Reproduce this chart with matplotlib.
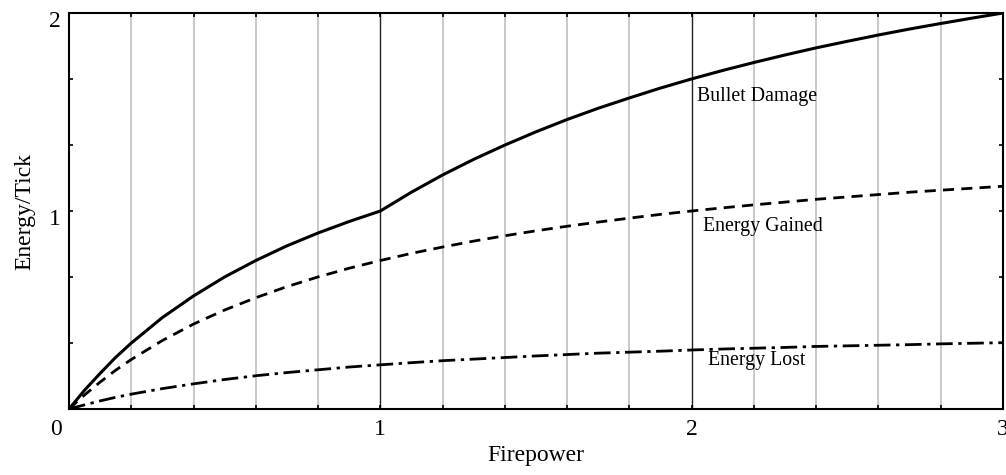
import matplotlib
matplotlib.use("Agg")
import matplotlib.pyplot as plt
import matplotlib.transforms as mtransforms
import numpy as np

# Firepower samples
firepower = [0.0, 0.05, 0.1, 0.15, 0.2, 0.3, 0.4, 0.5, 0.6, 0.7, 0.8, 0.9, 1.0,
             1.1, 1.2, 1.3, 1.4, 1.5, 1.6, 1.7, 1.8, 1.9, 2.0,
             2.1, 2.2, 2.3, 2.4, 2.5, 2.6, 2.7, 2.8, 2.9, 3.0]

bullet_damage = [0.0, 0.095, 0.18, 0.261, 0.333, 0.462, 0.571, 0.667, 0.75, 0.824, 0.889, 0.947, 1.0,
                 1.095, 1.182, 1.261, 1.333, 1.40, 1.462, 1.519, 1.571, 1.621, 1.667,
                 1.71, 1.75, 1.788, 1.824, 1.857, 1.889, 1.919, 1.947, 1.974, 2.0]

energy_gained = [0.0, 0.071, 0.136, 0.196, 0.25, 0.346, 0.429, 0.50, 0.562, 0.618, 0.667, 0.711, 0.75,
                 0.786, 0.818, 0.848, 0.875, 0.90, 0.923, 0.944, 0.964, 0.983, 1.0,
                 1.016, 1.031, 1.045, 1.059, 1.071, 1.083, 1.095, 1.105, 1.115, 1.125]

energy_lost = [0.0, 0.021, 0.041, 0.059, 0.075, 0.103, 0.127, 0.149, 0.168, 0.184, 0.198, 0.212, 0.223,
               0.234, 0.244, 0.252, 0.26, 0.268, 0.275, 0.282, 0.287, 0.292, 0.298,
               0.303, 0.307, 0.311, 0.316, 0.319, 0.322, 0.325, 0.329, 0.332, 0.335]

x_ticks = [0, 1, 2, 3]
x_tick_labels = ["0", "1", "2", "3"]
y_ticks = [1, 2]
y_tick_labels = ["1", "2"]

FONT = "Liberation Serif"

fig = plt.figure(figsize=(10.06, 4.75), dpi=100)
ax = fig.add_axes([69/1006, (475-409)/475, (1003-69)/1006, (409-13)/475])

# grid lines
for gx in np.arange(0.2, 3.0, 0.2):
    if abs(gx - round(gx)) < 1e-6:
        ax.axvline(gx, color="#222222", lw=1.0, zorder=1)
    else:
        ax.axvline(gx, color="#c4c4c4", lw=1.3, zorder=1)

ax.plot(firepower, bullet_damage, color="black", lw=2.2, ls="-", zorder=3)
ax.plot(firepower, energy_gained, color="black", lw=2.0, ls=(0, (4, 2.6)), zorder=3)
ax.plot(firepower, energy_lost, color="black", lw=2.0, ls=(0, (6, 2, 1.2, 2)), zorder=3)

ax.text(2.017, 1.58, "Bullet Damage", fontsize=14.3, family=FONT, va="center", ha="left")
ax.text(2.037, 0.92, "Energy Gained", fontsize=14.3, family=FONT, va="center", ha="left")
ax.text(2.053, 0.245, "Energy Lost", fontsize=14.3, family=FONT, va="center", ha="left")

ax.set_xlim(0, 3)
ax.set_ylim(0, 2)

ax.set_xticks(x_ticks)
ax.set_xticklabels(x_tick_labels, family=FONT, fontsize=17)
ax.set_xticks(np.arange(0.2, 3.0, 0.2), minor=True)
ax.set_yticks(y_ticks)
ax.set_yticklabels(y_tick_labels, family=FONT, fontsize=17)
ax.set_yticks([1/3, 2/3, 4/3, 5/3], minor=True)

ax.tick_params(axis="both", which="both", direction="in", length=3, width=1.2,
               top=True, right=True, color="black")
ax.tick_params(axis="x", which="major", pad=7)
ax.tick_params(axis="y", which="major", pad=6)

# shift labels
off0 = mtransforms.ScaledTranslation(-13/100, 0, fig.dpi_scale_trans)
xl = ax.get_xticklabels()
xl[0].set_transform(xl[0].get_transform() + off0)
offy = mtransforms.ScaledTranslation(0, -6/100, fig.dpi_scale_trans)
for lab in ax.get_yticklabels():
    lab.set_transform(lab.get_transform() + offy)

for s in ax.spines.values():
    s.set_linewidth(1.5)
    s.set_color("black")

ax.set_xlabel("Firepower", family=FONT, fontsize=17, labelpad=4)
ax.set_ylabel("Energy/Tick", family=FONT, fontsize=17, labelpad=10)

fig.savefig("out.png", dpi=100)
